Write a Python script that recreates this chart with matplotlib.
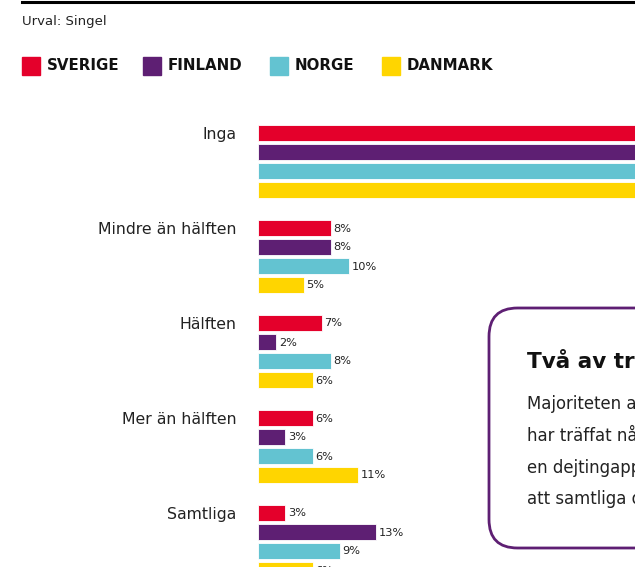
import matplotlib.pyplot as plt
from matplotlib.lines import Line2D
from matplotlib.patches import FancyBboxPatch, Rectangle

kategorier = ["Inga", "Mindre än hälften", "Hälften", "Mer än hälften", "Samtliga"]
lander = ["SVERIGE", "FINLAND", "NORGE", "DANMARK"]
farger = ["#E4002B", "#5E1F73", "#63C3D1", "#FFD500"]
varden = {
    "SVERIGE": [76, 8, 7, 6, 3],
    "FINLAND": [74, 8, 2, 3, 13],
    "NORGE": [67, 10, 8, 6, 9],
    "DANMARK": [72, 5, 6, 11, 6],
}

W, H = 635, 567
fig = plt.figure(figsize=(W / 100, H / 100), dpi=100)
fig.patch.set_facecolor("white")

# axes in pixel-ish units: x from bar start to figure edge, y is pixels from top
ax = fig.add_axes([258 / W, 0, (W - 258) / W, 1])
ax.set_xlim(0, (W - 258) / 9.1)
ax.set_ylim(H, 0)
for s in ax.spines.values():
    s.set_visible(False)
ax.set_xticks([])

grupp_start = 133
grupp_steg = 95
stapel_steg = 19
stapel_h = 16

for j, land in enumerate(lander):
    ys = [grupp_start + i * grupp_steg + j * stapel_steg for i in range(len(kategorier))]
    ax.barh(ys, varden[land], height=stapel_h, color=farger[j], edgecolor="white", linewidth=0.6)
    for y, v in zip(ys, varden[land]):
        if v < 30:
            ax.text(v + 0.3, y + 0.5, f"{v}%", va="center", ha="left", fontsize=8.2,
                    color="#222222")

ax.set_yticks([grupp_start + i * grupp_steg for i in range(len(kategorier))])
ax.set_yticklabels(kategorier, fontsize=11.3, color="#222222")
ax.tick_params(axis="y", length=0, pad=15.5)

# top rule and subtitle
fig.add_artist(Line2D([22 / W, 1], [1 - 1.5 / H, 1 - 1.5 / H], color="black", linewidth=2.2))
fig.text(22 / W, 1 - 21 / H, "Urval: Singel", fontsize=9.5, color="#222222", va="center")

# legend
leg_x = [22, 143, 270, 382]
for x, land, c in zip(leg_x, lander, farger):
    fig.add_artist(Rectangle((x / W, 1 - 75 / H), 18 / W, 18 / H, color=c, transform=fig.transFigure))
    fig.text((x + 25) / W, 1 - 66 / H, land, fontsize=10.8, fontweight="bold",
             color="#111111", va="center")

# info box
box = FancyBboxPatch((489 / W, 1 - 548 / H), 300 / W, 240 / H,
                     boxstyle="round,pad=0,rounding_size=0.045", transform=fig.transFigure,
                     facecolor="white", edgecolor="#5E1F73", linewidth=2, mutation_aspect=W / H)
fig.add_artist(box)
fig.text(527 / W, 1 - 361 / H, "Två av tre har aldrig träffat någon", fontsize=15.5,
         fontweight="bold", color="#111111", va="center")
rader = ["Majoriteten av de singlar som svarat",
         "har träffat några av sina dejter via",
         "en dejtingapp, men få uppger",
         "att samtliga dejter kommit därifrån."]
for k, r in enumerate(rader):
    fig.text(527 / W, 1 - (404 + k * 31.3) / H, r, fontsize=11.9, color="#222222", va="center")

fig.savefig("out.png", dpi=100)
